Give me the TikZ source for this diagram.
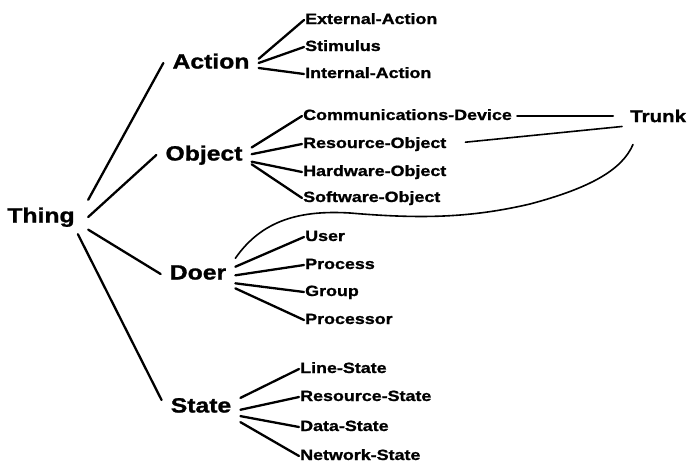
\documentclass[tikz,border=0pt]{standalone}
\usepackage{fontspec}
\newfontfamily\treefont{Liberation Sans}[FakeStretch=1.2, BoldFeatures={FakeBold=1.2}]

\begin{document}
\begin{tikzpicture}[x=1pt,y=-1pt,
    topic/.style={font=\treefont\bfseries\fontsize{20.6}{24}\selectfont,
      text height=15pt, text depth=4pt, inner xsep=9pt, inner ysep=6pt},
    leaf/.style={font=\treefont\bfseries\fontsize{14.9}{18}\selectfont,
      text height=11pt, text depth=3pt, inner sep=1pt, anchor=west},
    branch/.style={black, line width=2.3pt, line cap=round},
    link/.style={black, line width=1.6pt, line cap=round}]
  \useasboundingbox (0,0) rectangle (688,466);

  % root and its four kinds
  \node[topic, minimum width=94pt, minimum height=34pt] (Thing) at (41,217) {Thing};
  \node[topic] (Action) at (211,63) {Action};
  \node[topic] (Object) at (204,155) {Object};
  \node[topic] (Doer) at (198,274) {Doer};
  \node[topic] (State) at (201,407) {State};

  \draw[branch] (Thing.north east) -- (Action.west);
  \draw[branch] (Thing.east) -- (Object.west);
  \draw[branch] (Thing.-15) -- (Doer.west);
  \draw[branch] (Thing.-25) -- (State.170);

  % leaves
  \node[leaf] (ExtAct) at (304,20) {External-Action};
  \node[leaf] (Stim) at (304,47) {Stimulus};
  \node[leaf] (IntAct) at (304,74) {Internal-Action};

  \node[leaf] (ComDev) at (302,116) {Communications-Device};
  \node[leaf] (ResObj) at (302,144) {Resource-Object};
  \node[leaf] (HwObj) at (302,172) {Hardware-Object};
  \node[leaf] (SwObj) at (302,198) {Software-Object};

  \node[leaf] (User) at (304,237) {User};
  \node[leaf] (Proc) at (304,265) {Process};
  \node[leaf] (Group) at (304,292) {Group};
  \node[leaf] (Cpu) at (304,320) {Processor};

  \node[leaf] (LineSt) at (299,369) {Line-State};
  \node[leaf] (ResSt) at (299,397) {Resource-State};
  \node[leaf] (DataSt) at (299,427) {Data-State};
  \node[leaf] (NetSt) at (299,456) {Network-State};

  \draw[branch] (Action.5) -- (ExtAct.west);
  \draw[branch] (Action.0) -- (Stim.west);
  \draw[branch] (Action.-6) -- (IntAct.west);

  \draw[branch] (Object.9) -- (ComDev.west);
  \draw[branch] (Object.1) -- (ResObj.west);
  \draw[branch] (Object.-8) -- (HwObj.west);
  \draw[branch] (Object.-11) -- (SwObj.west);

  \draw[branch] (Doer.11) -- (User.west);
  \draw[branch] (Doer.-2) -- (Proc.west);
  \draw[branch] (Doer.-14) -- (Group.west);
  \draw[branch] (Doer.-21) -- (Cpu.west);

  \draw[branch] (State.13) -- (LineSt.west);
  \draw[branch] (State.-4) -- (ResSt.west);
  \draw[branch] (State.-13) -- (DataSt.west);
  \draw[branch] (State.-21) -- (NetSt.west);

  % Trunk and its links
  \node[font=\treefont\bfseries\fontsize{17.1}{20}\selectfont, inner sep=1pt, anchor=west] (Trunk) at (629,116) {Trunk};

  \draw[link, line width=2pt, shorten <=4pt, shorten >=16pt] (ComDev.east) -- (Trunk.west);
  \draw[link, shorten <=18pt] (ResObj.east) -- ([xshift=-7pt, yshift=-3pt]Trunk.south west);
  \draw[link] (Doer.north east) .. controls (262,220) and (300,210) .. (350,213)
    .. controls (420,219) and (470,218) .. (530,204)
    .. controls (590,188) and (622,170) .. ([xshift=4pt, yshift=-21pt]Trunk.south west);
\end{tikzpicture}
\end{document}
